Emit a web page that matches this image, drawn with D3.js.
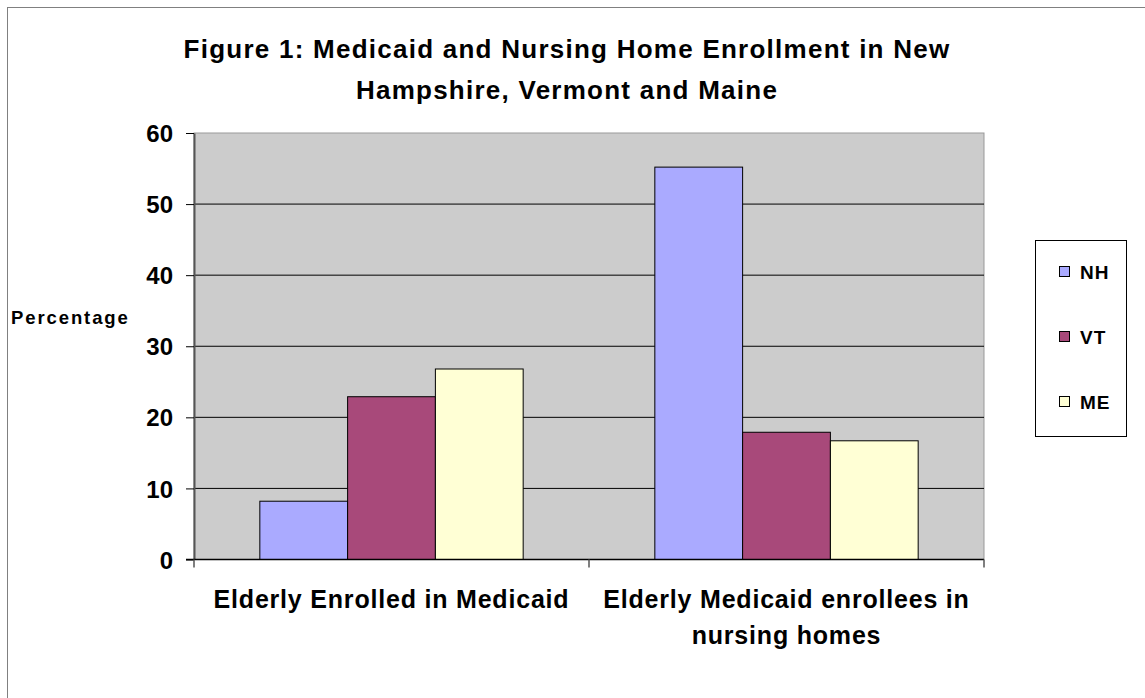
<!DOCTYPE html>
<html>
<head>
<meta charset="utf-8">
<script src="https://cdn.jsdelivr.net/npm/d3@7"></script>
<style>
	body { margin: 0; background: #fff; }
	text { font-family: Arial, 'Liberation Sans', sans-serif; font-weight: bold; fill: #000; }
</style>
</head>
<body>
<script>
const categories = [
	['Elderly Enrolled in Medicaid'],
	['Elderly Medicaid enrollees in', 'nursing homes'],
];
const seriesNames = ['NH', 'VT', 'ME'];
const seriesColors = ['#aaaaff', '#a8497a', '#ffffd5'];
const nhValues = [8.2, 55.2];
const vtValues = [22.9, 17.9];
const meValues = [26.8, 16.7];
const yTicks = [0, 10, 20, 30, 40, 50, 60];

const w = 1145;
const h = 698;
const plot = { left: 194, right: 984, top: 133, bottom: 559.5 };

const svg = d3
	.select('body')
	.append('svg')
	.attr('width', w)
	.attr('height', h);

// outer chart border (runs off the bottom/right)
svg.append('rect')
	.attr('x', 7.5).attr('y', 7.5)
	.attr('width', w + 10).attr('height', h + 10)
	.attr('fill', 'none').attr('stroke', '#808080').attr('stroke-width', 1);

svg.append('text')
	.attr('text-anchor', 'middle')
	.style('font-size', '26px')
	.style('letter-spacing', '1.25px')
	.selectAll('tspan')
	.data(['Figure 1: Medicaid and Nursing Home Enrollment in New', 'Hampshire, Vermont and Maine'])
	.enter()
	.append('tspan')
	.attr('x', 567)
	.attr('y', (d, i) => 58 + i * 41)
	.text(d => d);

const xScale = d3
	.scaleBand()
	.domain(categories.map((d, i) => i))
	.range([plot.left, plot.right]);

const yScale = d3
	.scaleLinear()
	.domain([0, 60])
	.range([plot.bottom, plot.top]);

// plot background
svg.append('rect')
	.attr('x', plot.left).attr('y', plot.top)
	.attr('width', plot.right - plot.left).attr('height', plot.bottom - plot.top)
	.attr('fill', '#cccccc')
	.attr('stroke', '#999999');

// gridlines
svg.selectAll('.grid')
	.data(yTicks.filter(d => d > 0 && d < 60))
	.enter()
	.append('line')
	.attr('x1', plot.left).attr('x2', plot.right)
	.attr('y1', d => yScale(d)).attr('y2', d => yScale(d))
	.attr('stroke', '#000').attr('stroke-width', 1);

// bars
const table = seriesNames.map((s, si) => ({
	name: s,
	color: seriesColors[si],
	values: [nhValues, vtValues, meValues][si],
}));

const barW = xScale.bandwidth() / (3 + 1.5);
table.forEach((s, si) => {
	svg.selectAll('.bar-' + s.name)
		.data(s.values)
		.enter()
		.append('rect')
		.attr('x', (d, i) => xScale(i) + barW * 0.75 + si * barW)
		.attr('y', d => yScale(d))
		.attr('width', barW)
		.attr('height', d => yScale(0) - yScale(d))
		.attr('fill', s.color)
		.attr('stroke', '#000')
		.attr('stroke-width', 1);
});

// y axis
const yAxis = svg.append('g')
	.attr('transform', `translate(${plot.left},0)`)
	.call(d3.axisLeft(yScale).tickValues(yTicks).tickSize(8).tickSizeOuter(0).tickPadding(13));
yAxis.select('.domain').attr('stroke', '#555').attr('stroke-width', 2);
yAxis.selectAll('line').attr('stroke', '#000');
yAxis.selectAll('text').style('font-size', '24px').attr('dy', '0.36em');

// x axis
const xAxisG = svg.append('g').attr('transform', `translate(0,${plot.bottom})`);
xAxisG.append('line')
	.attr('x1', plot.left - 8).attr('x2', plot.right)
	.attr('stroke', '#000').attr('stroke-width', 1.5);
xAxisG.selectAll('.xtick')
	.data([plot.left, plot.left + xScale.bandwidth(), plot.right])
	.enter()
	.append('line')
	.attr('x1', d => d).attr('x2', d => d)
	.attr('y1', 0).attr('y2', 8)
	.attr('stroke', '#555').attr('stroke-width', 1.5);

xAxisG.selectAll('.xlabel')
	.data(categories)
	.enter()
	.append('text')
	.attr('text-anchor', 'middle')
	.style('font-size', '25px')
	.style('letter-spacing', '0.8px')
	.each(function (d, i) {
		d3.select(this).selectAll('tspan')
			.data(d)
			.enter()
			.append('tspan')
			.attr('x', xScale(i) + xScale.bandwidth() / 2)
			.attr('y', (t, j) => 48 + j * 36)
			.text(t => t);
	});

// y label
svg.append('text')
	.attr('x', 11).attr('y', 324)
	.style('font-size', '18.5px')
	.style('letter-spacing', '1.9px')
	.text('Percentage');

// legend
const legend = svg.append('g');
legend.append('rect')
	.attr('x', 1035.5).attr('y', 240.5)
	.attr('width', 91).attr('height', 196)
	.attr('fill', '#fff').attr('stroke', '#000');
const li = legend.selectAll('.li')
	.data(table)
	.enter()
	.append('g')
	.attr('transform', (d, i) => `translate(0,${272 + i * 65})`);
li.append('rect')
	.attr('x', 1059.5).attr('y', -5.5)
	.attr('width', 10).attr('height', 10)
	.attr('fill', d => d.color)
	.attr('stroke', '#000');
li.append('text')
	.attr('x', 1080).attr('y', 7)
	.style('font-size', '19px')
	.style('letter-spacing', '1px')
	.text(d => d.name);
</script>
</body>
</html>
